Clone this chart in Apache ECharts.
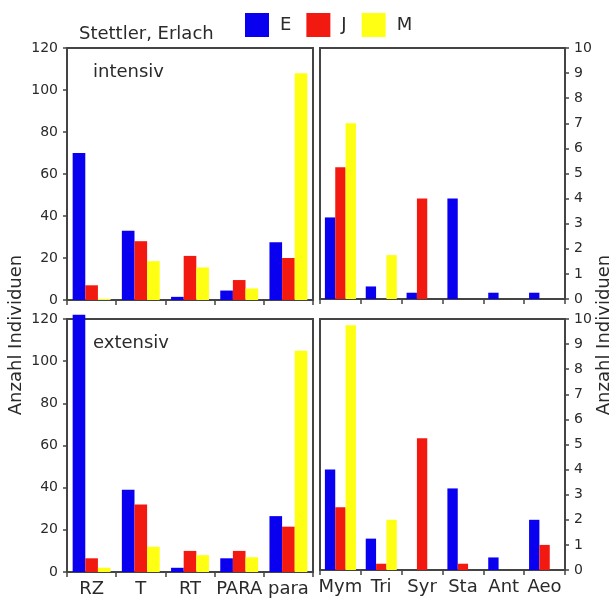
<!DOCTYPE html>
<html><head><meta charset="utf-8">
<script src="https://cdn.jsdelivr.net/npm/echarts@6/dist/echarts.min.js"></script>
<style>html,body{margin:0;padding:0;background:#fff}#c{width:609px;height:599px}</style>
</head><body><div id="c"></div>
<script>
const catsLeft = ['RZ', 'T', 'RT', 'PARA', 'para'];
const catsRight = ['Mym', 'Tri', 'Syr', 'Sta', 'Ant', 'Aeo'];
const seriesNames = ['E', 'J', 'M'];
const leftTicks = [0, 20, 40, 60, 80, 100, 120];
const rightTicks = [0, 1, 2, 3, 4, 5, 6, 7, 8, 9, 10];

const intensivLeftE = [70, 33, 1.5, 4.5, 27.5];
const intensivLeftJ = [7, 28, 21, 9.5, 20];
const intensivLeftM = [0.5, 18.5, 15.5, 5.5, 108];
const intensivRightE = [3.25, 0.5, 0.25, 4, 0.25, 0.25];
const intensivRightJ = [5.25, 0, 4, 0, 0, 0];
const intensivRightM = [7, 1.75, 0, 0, 0, 0];

const extensivLeftE = [122, 39, 2, 6.5, 26.5];
const extensivLeftJ = [6.5, 32, 10, 10, 21.5];
const extensivLeftM = [2, 12, 8, 7, 105];
const extensivRightE = [4, 1.25, 0, 3.25, 0.5, 2];
const extensivRightJ = [2.5, 0.25, 5.25, 0.25, 0, 1];
const extensivRightM = [9.75, 2, 0, 0, 0, 0];

const colors = ['#0a00f0', '#f21a10', '#ffff14'];
const FONT = 'DejaVu Sans';
const frame = '#444';
const txt = '#2a2a2a';

const chart = echarts.init(document.getElementById('c'), null, {renderer: 'canvas'});

const grids = [
  {left: 67, top: 48, width: 246, height: 252},
  {left: 320, top: 48, width: 245, height: 251},
  {left: 67, top: 319, width: 246, height: 253},
  {left: 320, top: 319, width: 245, height: 251}
].map(g => Object.assign({show: true, borderColor: frame, borderWidth: 2, backgroundColor: 'transparent'}, g));

function xAx(i, cats, labels) {
  return {
    type: 'category', gridIndex: i, data: cats, boundaryGap: true,
    axisLine: {show: true, lineStyle: {color: frame, width: 2}},
    axisTick: {show: true, length: 5, alignWithLabel: false, lineStyle: {color: frame, width: 1.5}},
    axisLabel: {show: labels, interval: 0, margin: 8, fontFamily: FONT, fontSize: 18, color: txt}
  };
}
function yAx(i, right) {
  return {
    type: 'value', gridIndex: i, position: right ? 'right' : 'left',
    min: 0, max: right ? rightTicks[rightTicks.length - 1] : leftTicks[leftTicks.length - 1],
    interval: right ? rightTicks[1] - rightTicks[0] : leftTicks[1] - leftTicks[0],
    splitLine: {show: false},
    axisLine: {show: true, lineStyle: {color: frame, width: 2}},
    axisTick: {show: true, length: 4, lineStyle: {color: frame, width: 1.5}},
    axisLabel: {margin: 9, fontFamily: FONT, fontSize: 14, color: txt}
  };
}

const panelData = [
  [intensivLeftE, intensivLeftJ, intensivLeftM],
  [intensivRightE, intensivRightJ, intensivRightM],
  [extensivLeftE, extensivLeftJ, extensivLeftM],
  [extensivRightE, extensivRightJ, extensivRightM]
];

const series = [];
panelData.forEach((arrs, p) => {
  arrs.forEach((d, k) => {
    series.push({
      type: 'bar', name: seriesNames[k], xAxisIndex: p, yAxisIndex: p,
      data: d, barGap: '0%', barCategoryGap: (p % 2 === 0) ? '23%' : '24%',
      clip: false, itemStyle: {color: colors[k]}, silent: true
    });
  });
});

chart.setOption({
  animation: false,
  backgroundColor: '#fff',
  grid: grids,
  xAxis: [xAx(0, catsLeft, false), xAx(1, catsRight, false), xAx(2, catsLeft, true), xAx(3, catsRight, true)],
  yAxis: [yAx(0, false), yAx(1, true), yAx(2, false), yAx(3, true)],
  legend: {
    data: seriesNames, left: 245, top: 13, padding: 0, itemWidth: 24, itemHeight: 24, itemGap: 15,
    icon: 'rect', selectedMode: false,
    textStyle: {fontFamily: FONT, fontSize: 18, color: txt, padding: [0, 0, 0, 6]}
  },
  title: [
    {text: 'Stettler, Erlach', left: 74, top: 20, textStyle: {fontFamily: FONT, fontSize: 18, fontWeight: 'normal', color: txt}},
    {text: 'intensiv', left: 88, top: 58, textStyle: {fontFamily: FONT, fontSize: 18, fontWeight: 'normal', color: txt}},
    {text: 'extensiv', left: 88, top: 329, textStyle: {fontFamily: FONT, fontSize: 18, fontWeight: 'normal', color: txt}}
  ],
  graphic: [
    {type: 'text', x: 16, y: 335, rotation: Math.PI / 2,
     style: {text: 'Anzahl Individuen', font: '18px "DejaVu Sans"', fill: txt, align: 'center', verticalAlign: 'middle'}},
    {type: 'text', x: 604, y: 335, rotation: Math.PI / 2,
     style: {text: 'Anzahl Individuen', font: '18px "DejaVu Sans"', fill: txt, align: 'center', verticalAlign: 'middle'}}
  ],
  series: series
});
</script></body></html>
